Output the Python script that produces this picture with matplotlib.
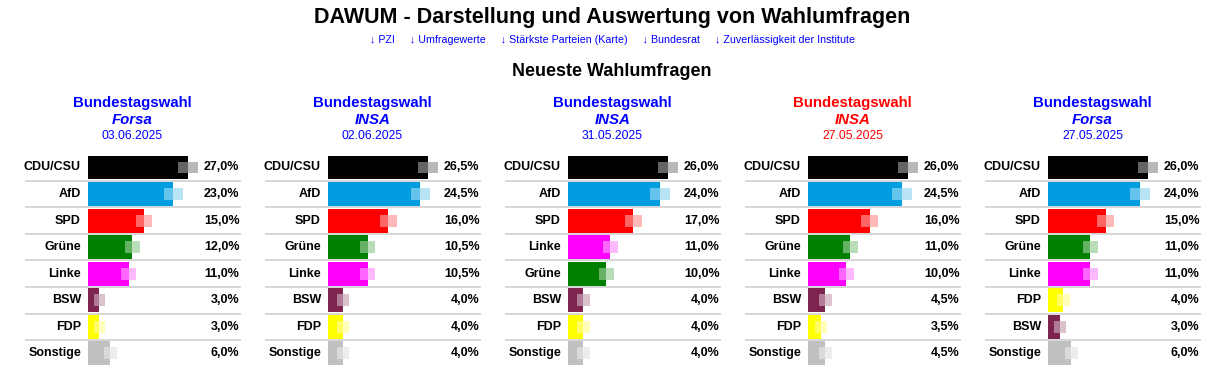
import matplotlib
matplotlib.use("Agg")
import matplotlib.pyplot as plt
import matplotlib.transforms as mtransforms

plt.rcParams['font.family'] = ['Liberation Sans', 'DejaVu Sans']

# ---- Daten ----
institutes = ["Forsa", "INSA", "INSA", "INSA", "Forsa"]
dates = ["03.06.2025", "02.06.2025", "31.05.2025", "27.05.2025", "27.05.2025"]
header_colors = ["#0000ff", "#0000ff", "#0000ff", "#ff0000", "#0000ff"]

parties_1 = ["CDU/CSU", "AfD", "SPD", "Grüne", "Linke", "BSW", "FDP", "Sonstige"]
values_1 = [27.0, 23.0, 15.0, 12.0, 11.0, 3.0, 3.0, 6.0]
margins_1 = [2.7, 2.56, 2.16, 2.03, 2.03, 1.49, 1.49, 1.76]

parties_2 = ["CDU/CSU", "AfD", "SPD", "Grüne", "Linke", "BSW", "FDP", "Sonstige"]
values_2 = [26.5, 24.5, 16.0, 10.5, 10.5, 4.0, 4.0, 4.0]
margins_2 = [2.65, 2.52, 2.25, 1.99, 1.99, 1.59, 1.59, 1.59]

parties_3 = ["CDU/CSU", "AfD", "SPD", "Linke", "Grüne", "BSW", "FDP", "Sonstige"]
values_3 = [26.0, 24.0, 17.0, 11.0, 10.0, 4.0, 4.0, 4.0]
margins_3 = [2.6, 2.6, 2.21, 1.95, 1.95, 1.69, 1.69, 1.69]

parties_4 = ["CDU/CSU", "AfD", "SPD", "Grüne", "Linke", "BSW", "FDP", "Sonstige"]
values_4 = [26.0, 24.5, 16.0, 11.0, 10.0, 4.5, 3.5, 4.5]
margins_4 = [2.6, 2.6, 2.21, 1.95, 1.95, 1.69, 1.56, 1.69]

parties_5 = ["CDU/CSU", "AfD", "SPD", "Grüne", "Linke", "FDP", "BSW", "Sonstige"]
values_5 = [26.0, 24.0, 15.0, 11.0, 11.0, 4.0, 3.0, 6.0]
margins_5 = [2.6, 2.6, 2.21, 1.95, 1.95, 1.69, 1.56, 1.69]

party_colors = {
    "CDU/CSU": "#000000", "AfD": "#009ee0", "SPD": "#ff0000", "Grüne": "#008000",
    "Linke": "#ff00ff", "BSW": "#7d254f", "FDP": "#ffff00", "Sonstige": "#c0c0c0",
}

panels = [
    (parties_1, values_1, margins_1),
    (parties_2, values_2, margins_2),
    (parties_3, values_3, margins_3),
    (parties_4, values_4, margins_4),
    (parties_5, values_5, margins_5),
]

W, H = 1210, 376
fig = plt.figure(figsize=(W / 100, H / 100), dpi=100)

# ---- Kopf ----
fig.text(612 / W, 1 - 18 / H, "DAWUM - Darstellung und Auswertung von Wahlumfragen",
         ha="center", va="center", fontsize=15.5, fontweight="bold")
links = ("↓ PZI     ↓ Umfragewerte     ↓ Stärkste Parteien (Karte)     "
         "↓ Bundesrat     ↓ Zuverlässigkeit der Institute")
fig.text(612 / W, 1 - 40 / H, links, ha="center", va="center", fontsize=7.7, color="#0000ff")
fig.text(612 / W, 1 - 72 / H, "Neueste Wahlumfragen", ha="center", va="center",
         fontsize=13, fontweight="bold")

# ---- Panels ----
row_top, row_h = 154.2, 26.55
for p, (parties, values, margins) in enumerate(panels):
    ox = 240 * p
    cx = (ox + 132.5) / W
    col = header_colors[p]
    fig.text(cx, 1 - 103 / H, "Bundestagswahl", ha="center", va="center",
             fontsize=10.8, fontweight="bold", color=col)
    fig.text(cx, 1 - 120 / H, institutes[p], ha="center", va="center",
             fontsize=10.8, fontweight="bold", style="italic", color=col)
    fig.text(cx, 1 - 136 / H, dates[p], ha="center", va="center",
             fontsize=8.7, color=col)

    n = len(parties)
    ax_left, ax_w = ox + 25, 216
    ax_h = n * row_h
    ax = fig.add_axes([ax_left / W, 1 - (row_top + ax_h) / H, ax_w / W, ax_h / H])
    s = max(values) / 100.0  # Prozent pro Pixel, längster Balken = 100 px
    ax.set_xlim(-63 * s, 153 * s)
    ax.set_ylim(n - 0.5, -0.5)
    ax.axis("off")

    ys = list(range(n))
    cols = [party_colors[q] for q in parties]
    lefts = [v - m for v, m in zip(values, margins)]
    widths = [2 * m for m in margins]
    # Fehlerbereich: hell hinter dem Balken, weiß-transparent darüber
    ax.barh(ys, widths, left=lefts, height=0.45, color=cols, alpha=0.45, zorder=1)
    ax.barh(ys, values, height=0.9, color=cols, zorder=2)
    ax.barh(ys, widths, left=lefts, height=0.45, color="white", alpha=0.4, zorder=3)

    for y in range(n - 1):
        ax.axhline(y + 0.5, color="#d0d0d0", lw=1.2, zorder=0)

    tr = mtransforms.blended_transform_factory(ax.transAxes, ax.transData)
    for y, (q, v) in enumerate(zip(parties, values)):
        ax.text(56 / ax_w, y, q, transform=tr, ha="right", va="center",
                fontsize=9, fontweight="bold")
        ax.text(214.5 / ax_w, y, f"{v:.1f}%".replace(".", ","), transform=tr,
                ha="right", va="center", fontsize=9, fontweight="bold")

fig.savefig("out.png", dpi=100)
